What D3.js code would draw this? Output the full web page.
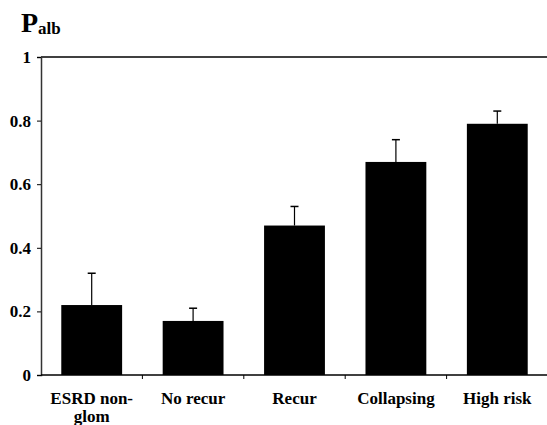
<!DOCTYPE html>
<html>
<head>
<meta charset="utf-8">
<script src="https://cdn.jsdelivr.net/npm/d3@7"></script>
<style>
  body { margin: 0; background: #fff; }
</style>
</head>
<body>
<svg id="chart" width="547" height="425"></svg>
<script>
// data
const categories = ["ESRD non-glom", "No recur", "Recur", "Collapsing", "High risk"];
const labelLines = [["ESRD non-", "glom"], ["No recur"], ["Recur"], ["Collapsing"], ["High risk"]];
const means = [0.22, 0.17, 0.47, 0.67, 0.79];
const errors = [0.10, 0.04, 0.06, 0.07, 0.04];
const yTicks = [0, 0.2, 0.4, 0.6, 0.8, 1];

const plotLeft = 41, plotRight = 548, plotTop = 57, plotBottom = 375;
const serif = "'Liberation Serif', 'Times New Roman', serif";

const svg = d3.select("#chart");

const x = d3.scaleBand()
  .domain(categories)
  .range([plotLeft, plotRight])
  .paddingInner(0.4)
  .paddingOuter(0.2);

const y = d3.scaleLinear()
  .domain([0, 1])
  .range([plotBottom, plotTop]);

// top frame line
svg.append("line")
  .attr("x1", plotLeft).attr("x2", plotRight)
  .attr("y1", y(1)).attr("y2", y(1))
  .attr("stroke", "#000").attr("stroke-width", 1.5);

// y axis
const yAxis = svg.append("g")
  .attr("transform", "translate(" + plotLeft + ",0)")
  .call(d3.axisLeft(y).tickValues(yTicks).tickSize(4).tickPadding(6)
    .tickFormat(d => d === 0 || d === 1 ? d3.format("d")(d) : d3.format(".1f")(d)));
yAxis.select(".domain").attr("stroke", "#333").attr("stroke-width", 1.5);
yAxis.selectAll("text")
  .style("font-family", serif).style("font-weight", "bold").style("font-size", "17px")
  .attr("fill", "#000");

// x axis, ticks at band boundaries
const step = x.step();
const boundaries = d3.range(categories.length + 1).map(i => plotLeft + i * step);
const xb = svg.append("g");
xb.append("line")
  .attr("x1", plotLeft).attr("x2", plotRight)
  .attr("y1", plotBottom).attr("y2", plotBottom)
  .attr("stroke", "#000").attr("stroke-width", 1.5);
xb.selectAll(".xt")
  .data(boundaries.slice(1, -1))
  .enter().append("line")
  .attr("class", "xt")
  .attr("x1", d => d).attr("x2", d => d)
  .attr("y1", plotBottom).attr("y2", plotBottom + 4)
  .attr("stroke", "#000");

// error bars (upper only)
const cx = c => x(c) + x.bandwidth() / 2;
svg.selectAll(".err")
  .data(categories)
  .enter().append("line")
  .attr("x1", cx).attr("x2", cx)
  .attr("y1", (c, i) => y(means[i]))
  .attr("y2", (c, i) => y(means[i] + errors[i]))
  .attr("stroke", "#000").attr("stroke-width", 1.2);
svg.selectAll(".cap")
  .data(categories)
  .enter().append("line")
  .attr("x1", c => cx(c) - 4).attr("x2", c => cx(c) + 4)
  .attr("y1", (c, i) => y(means[i] + errors[i]))
  .attr("y2", (c, i) => y(means[i] + errors[i]))
  .attr("stroke", "#000").attr("stroke-width", 1.5);

// bars
svg.selectAll(".bar")
  .data(categories)
  .enter().append("rect")
  .attr("class", "bar")
  .attr("x", c => x(c))
  .attr("width", x.bandwidth())
  .attr("y", (c, i) => y(means[i]))
  .attr("height", (c, i) => plotBottom - y(means[i]))
  .attr("fill", "#000");

// category labels
svg.selectAll(".cat")
  .data(categories)
  .enter().append("text")
  .attr("text-anchor", "middle")
  .style("font-family", serif).style("font-weight", "bold").style("font-size", "17px")
  .attr("y", 404)
  .each(function (c, i) {
    d3.select(this).selectAll("tspan")
      .data(labelLines[i])
      .enter().append("tspan")
      .attr("x", cx(c))
      .attr("dy", (d, j) => j === 0 ? 0 : 18)
      .text(d => d);
  });

// axis title P_alb
const title = svg.append("text").attr("x", 21).attr("y", 32)
  .style("font-family", serif).style("font-weight", "bold");
title.append("tspan").style("font-size", "28px").text("P");
title.append("tspan").style("font-size", "17px").attr("dy", 2).text("alb");
</script>
</body>
</html>
